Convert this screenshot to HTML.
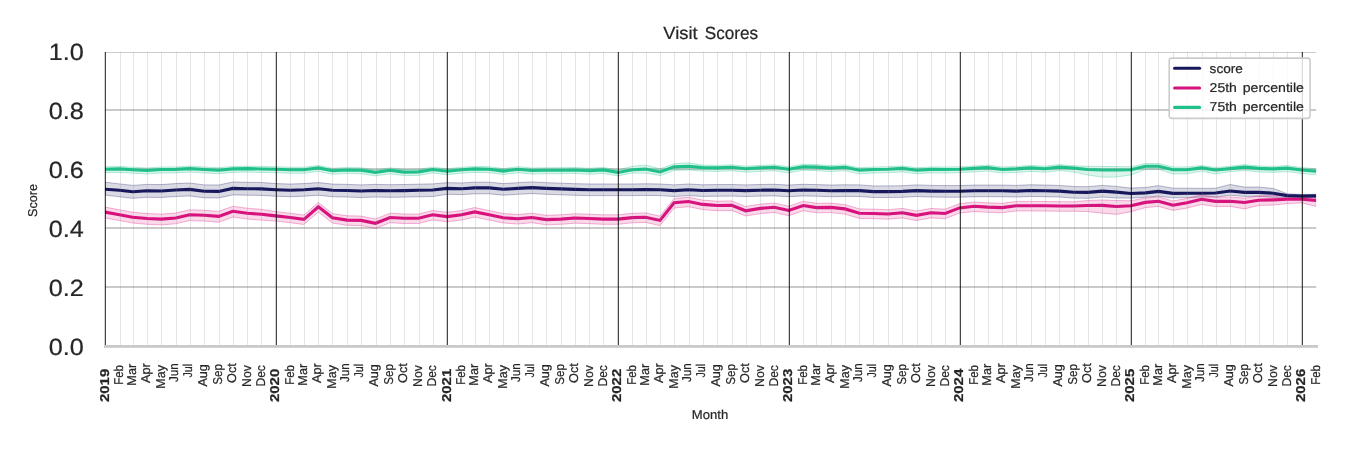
<!DOCTYPE html>
<html><head><meta charset="utf-8"><title>Visit Scores</title>
<style>html,body{margin:0;padding:0;background:#fff;}body{width:1350px;height:450px;overflow:hidden;font-family:"Liberation Sans",sans-serif;}</style></head>
<body>
<svg width="1350" height="450" viewBox="0 0 1350 450" style="display:block;will-change:transform;font-family:'Liberation Sans',sans-serif">
<rect width="1350" height="450" fill="#fff"/>
<style>text{text-rendering:geometricPrecision;stroke:#262626;stroke-width:0.22px}</style>
<defs><clipPath id="ax"><rect x="105.0" y="51.5" width="1211.2" height="296"/></clipPath></defs>
<g stroke="#cacaca" stroke-width="2">
<line x1="105.0" x2="1316.2" y1="287.0" y2="287.0"/>
<line x1="105.0" x2="1316.2" y1="228.0" y2="228.0"/>
<line x1="105.0" x2="1316.2" y1="169.0" y2="169.0"/>
<line x1="105.0" x2="1316.2" y1="110.0" y2="110.0"/>
</g>
<line x1="105.0" x2="1316.2" y1="52.5" y2="52.5" stroke="#cccccc" stroke-width="1"/>
<g clip-path="url(#ax)">
<path d="M105.0 182.2 L119.5 183.9 L132.6 185.4 L147.1 184.4 L161.2 184.6 L175.7 183.6 L189.7 183.0 L204.2 184.9 L218.7 185.0 L232.8 182.0 L247.3 182.3 L261.3 182.5 L275.8 183.6 L290.3 184.1 L303.9 183.6 L318.4 182.6 L332.4 184.1 L347.0 184.4 L361.0 184.9 L375.5 184.4 L390.0 184.7 L404.1 184.5 L418.6 184.2 L432.6 183.9 L447.1 182.7 L461.6 183.0 L474.7 182.2 L489.2 182.2 L503.3 183.6 L517.8 182.7 L531.8 181.9 L546.3 182.7 L560.8 183.2 L574.9 183.7 L589.4 184.0 L603.4 184.0 L617.9 184.0 L632.4 184.0 L645.5 183.8 L660.0 184.0 L674.1 184.9 L688.6 184.0 L702.6 184.8 L717.1 184.6 L731.7 184.5 L745.7 184.9 L760.2 184.5 L774.2 184.3 L788.7 185.1 L803.3 184.3 L816.4 184.6 L830.9 185.1 L844.9 184.8 L859.4 184.9 L873.5 185.9 L888.0 185.9 L902.5 185.7 L916.5 184.9 L931.0 185.4 L945.1 185.6 L959.6 185.6 L974.1 185.1 L987.6 185.1 L1002.2 185.1 L1016.2 185.4 L1030.7 184.8 L1044.7 185.1 L1059.3 185.4 L1073.8 186.5 L1087.8 186.7 L1102.3 185.4 L1116.3 186.4 L1130.9 188.1 L1145.4 187.5 L1158.5 185.7 L1173.0 188.2 L1187.0 188.2 L1201.5 188.4 L1215.6 188.2 L1230.1 184.5 L1244.6 187.1 L1258.6 187.1 L1273.1 188.4 L1287.2 193.7 L1301.7 194.5 L1316.2 194.3 L1316.2 197.6 L1301.7 197.8 L1287.2 197.6 L1273.1 197.2 L1258.6 196.4 L1244.6 196.4 L1230.1 195.2 L1215.6 197.0 L1201.5 197.0 L1187.0 197.6 L1173.0 197.9 L1158.5 196.2 L1145.4 197.2 L1130.9 198.1 L1116.3 198.0 L1102.3 197.0 L1087.8 198.3 L1073.8 198.1 L1059.3 197.0 L1044.7 196.7 L1030.7 196.4 L1016.2 197.0 L1002.2 196.7 L987.6 196.7 L974.1 196.7 L959.6 197.2 L945.1 197.2 L931.0 197.0 L916.5 196.5 L902.5 197.3 L888.0 197.5 L873.5 197.5 L859.4 196.5 L844.9 196.4 L830.9 196.7 L816.4 196.2 L803.3 195.9 L788.7 196.7 L774.2 195.9 L760.2 196.1 L745.7 196.5 L731.7 196.1 L717.1 196.2 L702.6 196.4 L688.6 195.6 L674.1 196.5 L660.0 195.6 L645.5 195.4 L632.4 195.6 L617.9 195.6 L603.4 195.6 L589.4 195.6 L574.9 195.3 L560.8 194.8 L546.3 194.3 L531.8 193.5 L517.8 194.3 L503.3 195.2 L489.2 193.8 L474.7 193.8 L461.6 194.6 L447.1 194.3 L432.6 196.5 L418.6 196.8 L404.1 197.1 L390.0 197.3 L375.5 197.0 L361.0 197.5 L347.0 197.0 L332.4 196.7 L318.4 195.2 L303.9 196.2 L290.3 196.7 L275.8 196.2 L261.3 195.4 L247.3 195.2 L232.8 194.9 L218.7 197.9 L204.2 197.8 L189.7 195.9 L175.7 196.5 L161.2 197.5 L147.1 197.3 L132.6 198.3 L119.5 196.8 L105.0 195.1Z" fill="#17175c" fill-opacity="0.16" stroke="#17175c" stroke-opacity="0.3" stroke-width="1" stroke-linejoin="miter"/>
<path d="M105.0 207.1 L119.5 209.8 L132.6 212.2 L147.1 213.5 L161.2 214.1 L175.7 213.0 L189.7 209.8 L204.2 210.3 L218.7 211.4 L232.8 206.3 L247.3 208.2 L261.3 209.3 L275.8 211.6 L290.3 213.2 L303.9 215.0 L318.4 202.5 L332.4 213.5 L347.0 215.8 L361.0 216.1 L375.5 219.0 L390.0 213.2 L404.1 214.0 L418.6 214.0 L432.6 210.5 L447.1 212.3 L461.6 210.5 L474.7 207.6 L489.2 210.5 L503.3 213.5 L517.8 214.5 L531.8 213.2 L546.3 215.3 L560.8 214.8 L574.9 213.7 L589.4 214.2 L603.4 214.8 L617.9 214.8 L632.4 213.3 L645.5 212.9 L660.0 216.1 L674.1 198.5 L688.6 197.2 L702.6 200.1 L717.1 201.2 L731.7 200.9 L745.7 206.5 L760.2 204.1 L774.2 203.0 L788.7 206.2 L803.3 201.2 L816.4 203.3 L830.9 203.1 L844.9 204.6 L859.4 208.9 L873.5 209.2 L888.0 209.7 L902.5 208.4 L916.5 211.0 L931.0 208.4 L945.1 209.2 L959.6 203.6 L974.1 202.0 L987.6 202.8 L1002.2 203.3 L1016.2 201.4 L1030.7 201.4 L1044.7 201.5 L1059.3 201.7 L1073.8 201.7 L1087.8 200.5 L1102.3 200.0 L1116.3 200.5 L1130.9 200.7 L1145.4 198.1 L1158.5 196.9 L1173.0 200.9 L1187.0 198.5 L1201.5 195.0 L1215.6 197.1 L1230.1 196.9 L1244.6 198.2 L1258.6 195.9 L1273.1 195.6 L1287.2 195.3 L1301.7 195.5 L1316.2 196.4 L1316.2 206.4 L1301.7 202.9 L1287.2 203.6 L1273.1 205.1 L1258.6 205.4 L1244.6 208.9 L1230.1 206.4 L1215.6 206.6 L1201.5 204.5 L1187.0 208.0 L1173.0 210.4 L1158.5 206.4 L1145.4 207.6 L1130.9 211.7 L1116.3 214.4 L1102.3 213.2 L1087.8 211.6 L1073.8 211.2 L1059.3 211.2 L1044.7 211.0 L1030.7 210.9 L1016.2 210.9 L1002.2 212.8 L987.6 212.3 L974.1 211.5 L959.6 213.1 L945.1 218.7 L931.0 217.9 L916.5 220.5 L902.5 217.9 L888.0 219.2 L873.5 218.7 L859.4 218.4 L844.9 214.1 L830.9 212.6 L816.4 212.8 L803.3 210.7 L788.7 215.7 L774.2 212.5 L760.2 213.6 L745.7 216.0 L731.7 210.4 L717.1 210.7 L702.6 209.6 L688.6 206.7 L674.1 208.0 L660.0 225.6 L645.5 222.4 L632.4 222.8 L617.9 224.3 L603.4 224.3 L589.4 223.7 L574.9 223.2 L560.8 224.3 L546.3 224.8 L531.8 222.7 L517.8 224.0 L503.3 223.0 L489.2 220.0 L474.7 217.1 L461.6 220.0 L447.1 221.8 L432.6 220.0 L418.6 223.5 L404.1 223.5 L390.0 222.7 L375.5 228.5 L361.0 225.6 L347.0 225.3 L332.4 223.0 L318.4 212.0 L303.9 224.5 L290.3 222.7 L275.8 221.1 L261.3 220.1 L247.3 219.0 L232.8 217.1 L218.7 222.2 L204.2 221.1 L189.7 220.6 L175.7 223.8 L161.2 224.9 L147.1 224.3 L132.6 223.0 L119.5 220.6 L105.0 217.9Z" fill="#d8127d" fill-opacity="0.16" stroke="#d8127d" stroke-opacity="0.3" stroke-width="1" stroke-linejoin="miter"/>
<path d="M105.0 166.7 L119.5 166.4 L132.6 167.2 L147.1 168.0 L161.2 167.0 L175.7 166.9 L189.7 166.1 L204.2 167.0 L218.7 167.7 L232.8 166.4 L247.3 166.1 L261.3 166.5 L275.8 166.7 L290.3 167.3 L303.9 167.2 L318.4 165.4 L332.4 168.3 L347.0 167.5 L361.0 167.8 L375.5 169.9 L390.0 167.8 L404.1 169.6 L418.6 169.4 L432.6 167.0 L447.1 168.8 L461.6 167.2 L474.7 166.4 L489.2 166.7 L503.3 168.6 L517.8 166.7 L531.8 168.0 L546.3 167.8 L560.8 167.7 L574.9 167.5 L589.4 168.3 L603.4 167.4 L617.9 169.9 L632.4 166.3 L645.5 165.1 L660.0 168.8 L674.1 163.7 L688.6 162.8 L702.6 165.1 L717.1 165.4 L731.7 164.8 L745.7 166.2 L760.2 165.4 L774.2 164.8 L788.7 166.7 L803.3 164.3 L816.4 164.6 L830.9 165.6 L844.9 164.8 L859.4 167.8 L873.5 167.0 L888.0 166.7 L902.5 165.9 L916.5 167.8 L931.0 166.9 L945.1 167.0 L959.6 166.7 L974.1 165.9 L987.6 165.1 L1002.2 167.0 L1016.2 166.4 L1030.7 165.4 L1044.7 166.2 L1059.3 164.6 L1073.8 165.7 L1087.8 166.3 L1102.3 166.5 L1116.3 166.5 L1130.9 166.8 L1145.4 163.5 L1158.5 163.5 L1173.0 166.9 L1187.0 166.9 L1201.5 165.5 L1215.6 167.6 L1230.1 166.2 L1244.6 164.6 L1258.6 165.9 L1273.1 166.4 L1287.2 165.6 L1301.7 167.5 L1316.2 168.8 L1316.2 174.8 L1301.7 173.5 L1287.2 171.6 L1273.1 172.4 L1258.6 171.9 L1244.6 170.6 L1230.1 171.6 L1215.6 174.0 L1201.5 171.1 L1187.0 173.7 L1173.0 174.0 L1158.5 169.3 L1145.4 169.5 L1130.9 175.0 L1116.3 177.0 L1102.3 177.2 L1087.8 175.0 L1073.8 172.1 L1059.3 170.6 L1044.7 172.2 L1030.7 171.4 L1016.2 172.4 L1002.2 173.0 L987.6 171.1 L974.1 171.9 L959.6 172.7 L945.1 173.0 L931.0 172.9 L916.5 173.8 L902.5 171.9 L888.0 172.7 L873.5 173.0 L859.4 173.8 L844.9 170.8 L830.9 171.6 L816.4 170.6 L803.3 170.3 L788.7 172.7 L774.2 170.8 L760.2 171.4 L745.7 172.2 L731.7 170.8 L717.1 171.4 L702.6 171.1 L688.6 169.9 L674.1 170.5 L660.0 175.6 L645.5 173.1 L632.4 173.1 L617.9 175.9 L603.4 173.4 L589.4 174.3 L574.9 173.5 L560.8 173.7 L546.3 173.8 L531.8 174.0 L517.8 172.7 L503.3 174.6 L489.2 172.7 L474.7 172.4 L461.6 173.2 L447.1 174.8 L432.6 173.0 L418.6 175.4 L404.1 175.6 L390.0 173.8 L375.5 175.9 L361.0 173.8 L347.0 173.5 L332.4 174.3 L318.4 171.4 L303.9 173.2 L290.3 173.3 L275.8 172.7 L261.3 172.5 L247.3 172.1 L232.8 172.4 L218.7 173.7 L204.2 173.0 L189.7 172.1 L175.7 172.9 L161.2 173.0 L147.1 174.0 L132.6 173.2 L119.5 172.4 L105.0 172.7Z" fill="#20c08c" fill-opacity="0.16" stroke="#20c08c" stroke-opacity="0.3" stroke-width="1" stroke-linejoin="miter"/>
<path d="M105.0 189.2 L119.5 190.3 L132.6 191.8 L147.1 190.8 L161.2 191.0 L175.7 190.0 L189.7 189.4 L204.2 191.3 L218.7 191.4 L232.8 188.4 L247.3 188.7 L261.3 188.9 L275.8 189.7 L290.3 190.2 L303.9 189.7 L318.4 188.7 L332.4 190.2 L347.0 190.5 L361.0 191.0 L375.5 190.5 L390.0 190.8 L404.1 190.6 L418.6 190.3 L432.6 190.0 L447.1 188.4 L461.6 188.7 L474.7 187.9 L489.2 187.9 L503.3 189.3 L517.8 188.4 L531.8 187.6 L546.3 188.4 L560.8 188.9 L574.9 189.4 L589.4 189.7 L603.4 189.7 L617.9 189.7 L632.4 189.7 L645.5 189.5 L660.0 189.7 L674.1 190.6 L688.6 189.7 L702.6 190.5 L717.1 190.3 L731.7 190.2 L745.7 190.6 L760.2 190.2 L774.2 190.0 L788.7 190.8 L803.3 190.0 L816.4 190.3 L830.9 190.8 L844.9 190.5 L859.4 190.6 L873.5 191.6 L888.0 191.6 L902.5 191.4 L916.5 190.6 L931.0 191.1 L945.1 191.3 L959.6 191.3 L974.1 190.8 L987.6 190.8 L1002.2 190.8 L1016.2 191.1 L1030.7 190.5 L1044.7 190.8 L1059.3 191.1 L1073.8 192.2 L1087.8 192.4 L1102.3 191.1 L1116.3 192.1 L1130.9 193.5 L1145.4 192.9 L1158.5 191.4 L1173.0 193.4 L1187.0 193.2 L1201.5 193.2 L1215.6 193.0 L1230.1 191.0 L1244.6 192.4 L1258.6 192.4 L1273.1 193.2 L1287.2 195.6 L1301.7 196.1 L1316.2 195.9" fill="none" stroke="#17175c" stroke-width="3.1" stroke-linejoin="miter" stroke-miterlimit="6" stroke-linecap="butt"/>
<path d="M105.0 212.1 L119.5 214.8 L132.6 217.2 L147.1 218.5 L161.2 219.1 L175.7 218.0 L189.7 214.8 L204.2 215.3 L218.7 216.4 L232.8 211.3 L247.3 213.2 L261.3 214.3 L275.8 215.9 L290.3 217.5 L303.9 219.3 L318.4 206.8 L332.4 217.8 L347.0 220.1 L361.0 220.4 L375.5 223.3 L390.0 217.5 L404.1 218.3 L418.6 218.3 L432.6 214.8 L447.1 216.6 L461.6 214.8 L474.7 211.9 L489.2 214.8 L503.3 217.8 L517.8 218.8 L531.8 217.5 L546.3 219.6 L560.8 219.1 L574.9 218.0 L589.4 218.5 L603.4 219.1 L617.9 219.1 L632.4 217.6 L645.5 217.2 L660.0 220.4 L674.1 202.8 L688.6 201.5 L702.6 204.4 L717.1 205.5 L731.7 205.2 L745.7 210.8 L760.2 208.4 L774.2 207.3 L788.7 210.5 L803.3 205.5 L816.4 207.6 L830.9 207.4 L844.9 208.9 L859.4 213.2 L873.5 213.5 L888.0 214.0 L902.5 212.7 L916.5 215.3 L931.0 212.7 L945.1 213.5 L959.6 207.9 L974.1 206.3 L987.6 207.1 L1002.2 207.6 L1016.2 205.7 L1030.7 205.7 L1044.7 205.8 L1059.3 206.0 L1073.8 206.0 L1087.8 205.5 L1102.3 205.4 L1116.3 206.5 L1130.9 205.7 L1145.4 202.4 L1158.5 201.2 L1173.0 205.2 L1187.0 202.8 L1201.5 199.3 L1215.6 201.4 L1230.1 201.2 L1244.6 202.5 L1258.6 200.2 L1273.1 199.9 L1287.2 199.3 L1301.7 199.3 L1316.2 200.4" fill="none" stroke="#d8127d" stroke-width="3.1" stroke-linejoin="miter" stroke-miterlimit="6" stroke-linecap="butt"/>
<path d="M105.0 169.2 L119.5 168.9 L132.6 169.7 L147.1 170.5 L161.2 169.5 L175.7 169.4 L189.7 168.6 L204.2 169.5 L218.7 170.2 L232.8 168.9 L247.3 168.6 L261.3 169.0 L275.8 169.2 L290.3 169.8 L303.9 169.7 L318.4 167.9 L332.4 170.8 L347.0 170.0 L361.0 170.3 L375.5 172.4 L390.0 170.3 L404.1 172.1 L418.6 171.9 L432.6 169.5 L447.1 171.3 L461.6 169.7 L474.7 168.9 L489.2 169.2 L503.3 171.1 L517.8 169.2 L531.8 170.5 L546.3 170.3 L560.8 170.2 L574.9 170.0 L589.4 170.8 L603.4 169.9 L617.9 172.4 L632.4 169.7 L645.5 169.1 L660.0 172.0 L674.1 166.9 L688.6 166.3 L702.6 167.6 L717.1 167.9 L731.7 167.3 L745.7 168.7 L760.2 167.9 L774.2 167.3 L788.7 169.2 L803.3 166.8 L816.4 167.1 L830.9 168.1 L844.9 167.3 L859.4 170.3 L873.5 169.5 L888.0 169.2 L902.5 168.4 L916.5 170.3 L931.0 169.4 L945.1 169.5 L959.6 169.2 L974.1 168.4 L987.6 167.6 L1002.2 169.5 L1016.2 168.9 L1030.7 167.9 L1044.7 168.7 L1059.3 167.1 L1073.8 168.1 L1087.8 169.5 L1102.3 170.0 L1116.3 170.0 L1130.9 169.8 L1145.4 166.3 L1158.5 166.3 L1173.0 169.7 L1187.0 169.7 L1201.5 167.9 L1215.6 170.0 L1230.1 168.6 L1244.6 167.1 L1258.6 168.4 L1273.1 168.9 L1287.2 168.1 L1301.7 170.0 L1316.2 171.3" fill="none" stroke="#20c08c" stroke-width="3.1" stroke-linejoin="miter" stroke-miterlimit="6" stroke-linecap="butt"/>
</g>
<g stroke="#808080" stroke-opacity="0.205" stroke-width="1">
<line x1="120.50" x2="120.50" y1="52" y2="345"/>
<line x1="133.50" x2="133.50" y1="52" y2="345"/>
<line x1="147.50" x2="147.50" y1="52" y2="345"/>
<line x1="161.50" x2="161.50" y1="52" y2="345"/>
<line x1="176.50" x2="176.50" y1="52" y2="345"/>
<line x1="190.50" x2="190.50" y1="52" y2="345"/>
<line x1="204.50" x2="204.50" y1="52" y2="345"/>
<line x1="219.50" x2="219.50" y1="52" y2="345"/>
<line x1="233.50" x2="233.50" y1="52" y2="345"/>
<line x1="247.50" x2="247.50" y1="52" y2="345"/>
<line x1="261.50" x2="261.50" y1="52" y2="345"/>
<line x1="290.50" x2="290.50" y1="52" y2="345"/>
<line x1="304.50" x2="304.50" y1="52" y2="345"/>
<line x1="318.50" x2="318.50" y1="52" y2="345"/>
<line x1="332.50" x2="332.50" y1="52" y2="345"/>
<line x1="347.50" x2="347.50" y1="52" y2="345"/>
<line x1="361.50" x2="361.50" y1="52" y2="345"/>
<line x1="376.50" x2="376.50" y1="52" y2="345"/>
<line x1="390.50" x2="390.50" y1="52" y2="345"/>
<line x1="404.50" x2="404.50" y1="52" y2="345"/>
<line x1="419.50" x2="419.50" y1="52" y2="345"/>
<line x1="433.50" x2="433.50" y1="52" y2="345"/>
<line x1="462.50" x2="462.50" y1="52" y2="345"/>
<line x1="475.50" x2="475.50" y1="52" y2="345"/>
<line x1="489.50" x2="489.50" y1="52" y2="345"/>
<line x1="503.50" x2="503.50" y1="52" y2="345"/>
<line x1="518.50" x2="518.50" y1="52" y2="345"/>
<line x1="532.50" x2="532.50" y1="52" y2="345"/>
<line x1="546.50" x2="546.50" y1="52" y2="345"/>
<line x1="561.50" x2="561.50" y1="52" y2="345"/>
<line x1="575.50" x2="575.50" y1="52" y2="345"/>
<line x1="589.50" x2="589.50" y1="52" y2="345"/>
<line x1="603.50" x2="603.50" y1="52" y2="345"/>
<line x1="632.50" x2="632.50" y1="52" y2="345"/>
<line x1="646.50" x2="646.50" y1="52" y2="345"/>
<line x1="660.50" x2="660.50" y1="52" y2="345"/>
<line x1="674.50" x2="674.50" y1="52" y2="345"/>
<line x1="689.50" x2="689.50" y1="52" y2="345"/>
<line x1="703.50" x2="703.50" y1="52" y2="345"/>
<line x1="717.50" x2="717.50" y1="52" y2="345"/>
<line x1="732.50" x2="732.50" y1="52" y2="345"/>
<line x1="746.50" x2="746.50" y1="52" y2="345"/>
<line x1="760.50" x2="760.50" y1="52" y2="345"/>
<line x1="774.50" x2="774.50" y1="52" y2="345"/>
<line x1="803.50" x2="803.50" y1="52" y2="345"/>
<line x1="816.50" x2="816.50" y1="52" y2="345"/>
<line x1="831.50" x2="831.50" y1="52" y2="345"/>
<line x1="845.50" x2="845.50" y1="52" y2="345"/>
<line x1="859.50" x2="859.50" y1="52" y2="345"/>
<line x1="873.50" x2="873.50" y1="52" y2="345"/>
<line x1="888.50" x2="888.50" y1="52" y2="345"/>
<line x1="902.50" x2="902.50" y1="52" y2="345"/>
<line x1="917.50" x2="917.50" y1="52" y2="345"/>
<line x1="931.50" x2="931.50" y1="52" y2="345"/>
<line x1="945.50" x2="945.50" y1="52" y2="345"/>
<line x1="974.50" x2="974.50" y1="52" y2="345"/>
<line x1="988.50" x2="988.50" y1="52" y2="345"/>
<line x1="1002.50" x2="1002.50" y1="52" y2="345"/>
<line x1="1016.50" x2="1016.50" y1="52" y2="345"/>
<line x1="1031.50" x2="1031.50" y1="52" y2="345"/>
<line x1="1045.50" x2="1045.50" y1="52" y2="345"/>
<line x1="1059.50" x2="1059.50" y1="52" y2="345"/>
<line x1="1074.50" x2="1074.50" y1="52" y2="345"/>
<line x1="1088.50" x2="1088.50" y1="52" y2="345"/>
<line x1="1102.50" x2="1102.50" y1="52" y2="345"/>
<line x1="1116.50" x2="1116.50" y1="52" y2="345"/>
<line x1="1145.50" x2="1145.50" y1="52" y2="345"/>
<line x1="1158.50" x2="1158.50" y1="52" y2="345"/>
<line x1="1173.50" x2="1173.50" y1="52" y2="345"/>
<line x1="1187.50" x2="1187.50" y1="52" y2="345"/>
<line x1="1202.50" x2="1202.50" y1="52" y2="345"/>
<line x1="1216.50" x2="1216.50" y1="52" y2="345"/>
<line x1="1230.50" x2="1230.50" y1="52" y2="345"/>
<line x1="1245.50" x2="1245.50" y1="52" y2="345"/>
<line x1="1259.50" x2="1259.50" y1="52" y2="345"/>
<line x1="1273.50" x2="1273.50" y1="52" y2="345"/>
<line x1="1287.50" x2="1287.50" y1="52" y2="345"/>
</g>
<g stroke="#000000" stroke-opacity="0.73" stroke-width="1.25">
<line x1="105.375" x2="105.375" y1="52" y2="345.2"/>
<line x1="276.375" x2="276.375" y1="52" y2="345.2"/>
<line x1="447.375" x2="447.375" y1="52" y2="345.2"/>
<line x1="618.375" x2="618.375" y1="52" y2="345.2"/>
<line x1="789.375" x2="789.375" y1="52" y2="345.2"/>
<line x1="960.375" x2="960.375" y1="52" y2="345.2"/>
<line x1="1131.375" x2="1131.375" y1="52" y2="345.2"/>
<line x1="1302.375" x2="1302.375" y1="52" y2="345.2"/>
</g>
<rect x="104" y="345" width="1214.0" height="2.8" fill="#c9c9c9"/>
<text x="48.75" y="355.15" font-size="23.50" textLength="35.00" lengthAdjust="spacingAndGlyphs" fill="#262626">0.0</text>
<text x="48.75" y="296.15" font-size="23.50" textLength="35.00" lengthAdjust="spacingAndGlyphs" fill="#262626">0.2</text>
<text x="48.75" y="237.15" font-size="23.50" textLength="35.00" lengthAdjust="spacingAndGlyphs" fill="#262626">0.4</text>
<text x="48.75" y="178.15" font-size="23.50" textLength="35.00" lengthAdjust="spacingAndGlyphs" fill="#262626">0.6</text>
<text x="48.75" y="119.15" font-size="23.50" textLength="35.00" lengthAdjust="spacingAndGlyphs" fill="#262626">0.8</text>
<text x="48.75" y="60.15" font-size="23.50" textLength="35.00" lengthAdjust="spacingAndGlyphs" fill="#262626">1.0</text>
<text transform="translate(109.20 402.10) rotate(-90)" x="0.00" font-size="12.80" font-weight="bold" textLength="33.39" lengthAdjust="spacingAndGlyphs" fill="#262626">2019</text>
<text transform="translate(123.16 384.80) rotate(-90)" x="0.00" font-size="12.80" textLength="19.80" lengthAdjust="spacingAndGlyphs" fill="#262626">Feb</text>
<text transform="translate(136.06 385.70) rotate(-90)" x="0.00" font-size="12.80" textLength="21.90" lengthAdjust="spacingAndGlyphs" fill="#262626">Mar</text>
<text transform="translate(150.07 383.10) rotate(-90)" x="0.00" font-size="12.80" textLength="20.00" lengthAdjust="spacingAndGlyphs" fill="#262626">Apr</text>
<text transform="translate(164.81 388.70) rotate(-90)" x="0.00" font-size="12.80" textLength="23.60" lengthAdjust="spacingAndGlyphs" fill="#262626">May</text>
<text transform="translate(177.92 382.00) rotate(-90)" x="0.00" font-size="12.80" textLength="18.70" lengthAdjust="spacingAndGlyphs" fill="#262626">Jun</text>
<text transform="translate(192.06 377.60) rotate(-90)" x="0.00" font-size="12.80" textLength="13.60" lengthAdjust="spacingAndGlyphs" fill="#262626">Jul</text>
<text transform="translate(207.17 386.60) rotate(-90)" x="0.00" font-size="12.80" textLength="22.40" lengthAdjust="spacingAndGlyphs" fill="#262626">Aug</text>
<text transform="translate(221.77 384.70) rotate(-90)" x="0.00" font-size="12.80" textLength="20.70" lengthAdjust="spacingAndGlyphs" fill="#262626">Sep</text>
<text transform="translate(235.91 382.90) rotate(-90)" x="0.00" font-size="12.80" textLength="19.60" lengthAdjust="spacingAndGlyphs" fill="#262626">Oct</text>
<text transform="translate(251.02 386.90) rotate(-90)" x="0.00" font-size="12.80" textLength="21.80" lengthAdjust="spacingAndGlyphs" fill="#262626">Nov</text>
<text transform="translate(264.86 386.60) rotate(-90)" x="0.00" font-size="12.80" textLength="21.50" lengthAdjust="spacingAndGlyphs" fill="#262626">Dec</text>
<text transform="translate(279.00 402.10) rotate(-90)" x="0.00" font-size="12.80" font-weight="bold" textLength="33.39" lengthAdjust="spacingAndGlyphs" fill="#262626">2020</text>
<text transform="translate(293.98 384.80) rotate(-90)" x="0.00" font-size="12.80" textLength="19.80" lengthAdjust="spacingAndGlyphs" fill="#262626">Feb</text>
<text transform="translate(307.35 385.70) rotate(-90)" x="0.00" font-size="12.80" textLength="21.90" lengthAdjust="spacingAndGlyphs" fill="#262626">Mar</text>
<text transform="translate(321.36 383.10) rotate(-90)" x="0.00" font-size="12.80" textLength="20.00" lengthAdjust="spacingAndGlyphs" fill="#262626">Apr</text>
<text transform="translate(336.10 388.70) rotate(-90)" x="0.00" font-size="12.80" textLength="23.60" lengthAdjust="spacingAndGlyphs" fill="#262626">May</text>
<text transform="translate(349.21 382.00) rotate(-90)" x="0.00" font-size="12.80" textLength="18.70" lengthAdjust="spacingAndGlyphs" fill="#262626">Jun</text>
<text transform="translate(363.35 377.60) rotate(-90)" x="0.00" font-size="12.80" textLength="13.60" lengthAdjust="spacingAndGlyphs" fill="#262626">Jul</text>
<text transform="translate(378.45 386.60) rotate(-90)" x="0.00" font-size="12.80" textLength="22.40" lengthAdjust="spacingAndGlyphs" fill="#262626">Aug</text>
<text transform="translate(393.06 384.70) rotate(-90)" x="0.00" font-size="12.80" textLength="20.70" lengthAdjust="spacingAndGlyphs" fill="#262626">Sep</text>
<text transform="translate(407.20 382.90) rotate(-90)" x="0.00" font-size="12.80" textLength="19.60" lengthAdjust="spacingAndGlyphs" fill="#262626">Oct</text>
<text transform="translate(422.31 386.90) rotate(-90)" x="0.00" font-size="12.80" textLength="21.80" lengthAdjust="spacingAndGlyphs" fill="#262626">Nov</text>
<text transform="translate(436.15 386.60) rotate(-90)" x="0.00" font-size="12.80" textLength="21.50" lengthAdjust="spacingAndGlyphs" fill="#262626">Dec</text>
<text transform="translate(451.10 402.10) rotate(-90)" x="0.00" font-size="12.80" font-weight="bold" textLength="33.39" lengthAdjust="spacingAndGlyphs" fill="#262626">2021</text>
<text transform="translate(465.27 384.80) rotate(-90)" x="0.00" font-size="12.80" textLength="19.80" lengthAdjust="spacingAndGlyphs" fill="#262626">Feb</text>
<text transform="translate(478.17 385.70) rotate(-90)" x="0.00" font-size="12.80" textLength="21.90" lengthAdjust="spacingAndGlyphs" fill="#262626">Mar</text>
<text transform="translate(492.18 383.10) rotate(-90)" x="0.00" font-size="12.80" textLength="20.00" lengthAdjust="spacingAndGlyphs" fill="#262626">Apr</text>
<text transform="translate(506.92 388.70) rotate(-90)" x="0.00" font-size="12.80" textLength="23.60" lengthAdjust="spacingAndGlyphs" fill="#262626">May</text>
<text transform="translate(520.03 382.00) rotate(-90)" x="0.00" font-size="12.80" textLength="18.70" lengthAdjust="spacingAndGlyphs" fill="#262626">Jun</text>
<text transform="translate(534.17 377.60) rotate(-90)" x="0.00" font-size="12.80" textLength="13.60" lengthAdjust="spacingAndGlyphs" fill="#262626">Jul</text>
<text transform="translate(549.27 386.60) rotate(-90)" x="0.00" font-size="12.80" textLength="22.40" lengthAdjust="spacingAndGlyphs" fill="#262626">Aug</text>
<text transform="translate(563.88 384.70) rotate(-90)" x="0.00" font-size="12.80" textLength="20.70" lengthAdjust="spacingAndGlyphs" fill="#262626">Sep</text>
<text transform="translate(578.02 382.90) rotate(-90)" x="0.00" font-size="12.80" textLength="19.60" lengthAdjust="spacingAndGlyphs" fill="#262626">Oct</text>
<text transform="translate(593.13 386.90) rotate(-90)" x="0.00" font-size="12.80" textLength="21.80" lengthAdjust="spacingAndGlyphs" fill="#262626">Nov</text>
<text transform="translate(606.97 386.60) rotate(-90)" x="0.00" font-size="12.80" textLength="21.50" lengthAdjust="spacingAndGlyphs" fill="#262626">Dec</text>
<text transform="translate(621.10 402.10) rotate(-90)" x="0.00" font-size="12.80" font-weight="bold" textLength="33.39" lengthAdjust="spacingAndGlyphs" fill="#262626">2022</text>
<text transform="translate(636.09 384.80) rotate(-90)" x="0.00" font-size="12.80" textLength="19.80" lengthAdjust="spacingAndGlyphs" fill="#262626">Feb</text>
<text transform="translate(648.99 385.70) rotate(-90)" x="0.00" font-size="12.80" textLength="21.90" lengthAdjust="spacingAndGlyphs" fill="#262626">Mar</text>
<text transform="translate(663.00 383.10) rotate(-90)" x="0.00" font-size="12.80" textLength="20.00" lengthAdjust="spacingAndGlyphs" fill="#262626">Apr</text>
<text transform="translate(677.74 388.70) rotate(-90)" x="0.00" font-size="12.80" textLength="23.60" lengthAdjust="spacingAndGlyphs" fill="#262626">May</text>
<text transform="translate(690.85 382.00) rotate(-90)" x="0.00" font-size="12.80" textLength="18.70" lengthAdjust="spacingAndGlyphs" fill="#262626">Jun</text>
<text transform="translate(704.99 377.60) rotate(-90)" x="0.00" font-size="12.80" textLength="13.60" lengthAdjust="spacingAndGlyphs" fill="#262626">Jul</text>
<text transform="translate(720.09 386.60) rotate(-90)" x="0.00" font-size="12.80" textLength="22.40" lengthAdjust="spacingAndGlyphs" fill="#262626">Aug</text>
<text transform="translate(734.70 384.70) rotate(-90)" x="0.00" font-size="12.80" textLength="20.70" lengthAdjust="spacingAndGlyphs" fill="#262626">Sep</text>
<text transform="translate(748.84 382.90) rotate(-90)" x="0.00" font-size="12.80" textLength="19.60" lengthAdjust="spacingAndGlyphs" fill="#262626">Oct</text>
<text transform="translate(763.95 386.90) rotate(-90)" x="0.00" font-size="12.80" textLength="21.80" lengthAdjust="spacingAndGlyphs" fill="#262626">Nov</text>
<text transform="translate(777.79 386.60) rotate(-90)" x="0.00" font-size="12.80" textLength="21.50" lengthAdjust="spacingAndGlyphs" fill="#262626">Dec</text>
<text transform="translate(791.70 402.10) rotate(-90)" x="0.00" font-size="12.80" font-weight="bold" textLength="33.39" lengthAdjust="spacingAndGlyphs" fill="#262626">2023</text>
<text transform="translate(806.91 384.80) rotate(-90)" x="0.00" font-size="12.80" textLength="19.80" lengthAdjust="spacingAndGlyphs" fill="#262626">Feb</text>
<text transform="translate(819.81 385.70) rotate(-90)" x="0.00" font-size="12.80" textLength="21.90" lengthAdjust="spacingAndGlyphs" fill="#262626">Mar</text>
<text transform="translate(833.82 383.10) rotate(-90)" x="0.00" font-size="12.80" textLength="20.00" lengthAdjust="spacingAndGlyphs" fill="#262626">Apr</text>
<text transform="translate(848.56 388.70) rotate(-90)" x="0.00" font-size="12.80" textLength="23.60" lengthAdjust="spacingAndGlyphs" fill="#262626">May</text>
<text transform="translate(861.67 382.00) rotate(-90)" x="0.00" font-size="12.80" textLength="18.70" lengthAdjust="spacingAndGlyphs" fill="#262626">Jun</text>
<text transform="translate(875.81 377.60) rotate(-90)" x="0.00" font-size="12.80" textLength="13.60" lengthAdjust="spacingAndGlyphs" fill="#262626">Jul</text>
<text transform="translate(890.91 386.60) rotate(-90)" x="0.00" font-size="12.80" textLength="22.40" lengthAdjust="spacingAndGlyphs" fill="#262626">Aug</text>
<text transform="translate(905.52 384.70) rotate(-90)" x="0.00" font-size="12.80" textLength="20.70" lengthAdjust="spacingAndGlyphs" fill="#262626">Sep</text>
<text transform="translate(919.66 382.90) rotate(-90)" x="0.00" font-size="12.80" textLength="19.60" lengthAdjust="spacingAndGlyphs" fill="#262626">Oct</text>
<text transform="translate(934.77 386.90) rotate(-90)" x="0.00" font-size="12.80" textLength="21.80" lengthAdjust="spacingAndGlyphs" fill="#262626">Nov</text>
<text transform="translate(948.61 386.60) rotate(-90)" x="0.00" font-size="12.80" textLength="21.50" lengthAdjust="spacingAndGlyphs" fill="#262626">Dec</text>
<text transform="translate(963.10 402.10) rotate(-90)" x="0.00" font-size="12.80" font-weight="bold" textLength="33.39" lengthAdjust="spacingAndGlyphs" fill="#262626">2024</text>
<text transform="translate(977.73 384.80) rotate(-90)" x="0.00" font-size="12.80" textLength="19.80" lengthAdjust="spacingAndGlyphs" fill="#262626">Feb</text>
<text transform="translate(991.10 385.70) rotate(-90)" x="0.00" font-size="12.80" textLength="21.90" lengthAdjust="spacingAndGlyphs" fill="#262626">Mar</text>
<text transform="translate(1005.11 383.10) rotate(-90)" x="0.00" font-size="12.80" textLength="20.00" lengthAdjust="spacingAndGlyphs" fill="#262626">Apr</text>
<text transform="translate(1019.85 388.70) rotate(-90)" x="0.00" font-size="12.80" textLength="23.60" lengthAdjust="spacingAndGlyphs" fill="#262626">May</text>
<text transform="translate(1032.95 382.00) rotate(-90)" x="0.00" font-size="12.80" textLength="18.70" lengthAdjust="spacingAndGlyphs" fill="#262626">Jun</text>
<text transform="translate(1047.09 377.60) rotate(-90)" x="0.00" font-size="12.80" textLength="13.60" lengthAdjust="spacingAndGlyphs" fill="#262626">Jul</text>
<text transform="translate(1062.20 386.60) rotate(-90)" x="0.00" font-size="12.80" textLength="22.40" lengthAdjust="spacingAndGlyphs" fill="#262626">Aug</text>
<text transform="translate(1076.81 384.70) rotate(-90)" x="0.00" font-size="12.80" textLength="20.70" lengthAdjust="spacingAndGlyphs" fill="#262626">Sep</text>
<text transform="translate(1090.95 382.90) rotate(-90)" x="0.00" font-size="12.80" textLength="19.60" lengthAdjust="spacingAndGlyphs" fill="#262626">Oct</text>
<text transform="translate(1106.06 386.90) rotate(-90)" x="0.00" font-size="12.80" textLength="21.80" lengthAdjust="spacingAndGlyphs" fill="#262626">Nov</text>
<text transform="translate(1119.90 386.60) rotate(-90)" x="0.00" font-size="12.80" textLength="21.50" lengthAdjust="spacingAndGlyphs" fill="#262626">Dec</text>
<text transform="translate(1133.90 402.10) rotate(-90)" x="0.00" font-size="12.80" font-weight="bold" textLength="33.39" lengthAdjust="spacingAndGlyphs" fill="#262626">2025</text>
<text transform="translate(1149.01 384.80) rotate(-90)" x="0.00" font-size="12.80" textLength="19.80" lengthAdjust="spacingAndGlyphs" fill="#262626">Feb</text>
<text transform="translate(1161.92 385.70) rotate(-90)" x="0.00" font-size="12.80" textLength="21.90" lengthAdjust="spacingAndGlyphs" fill="#262626">Mar</text>
<text transform="translate(1175.93 383.10) rotate(-90)" x="0.00" font-size="12.80" textLength="20.00" lengthAdjust="spacingAndGlyphs" fill="#262626">Apr</text>
<text transform="translate(1190.67 388.70) rotate(-90)" x="0.00" font-size="12.80" textLength="23.60" lengthAdjust="spacingAndGlyphs" fill="#262626">May</text>
<text transform="translate(1203.77 382.00) rotate(-90)" x="0.00" font-size="12.80" textLength="18.70" lengthAdjust="spacingAndGlyphs" fill="#262626">Jun</text>
<text transform="translate(1217.91 377.60) rotate(-90)" x="0.00" font-size="12.80" textLength="13.60" lengthAdjust="spacingAndGlyphs" fill="#262626">Jul</text>
<text transform="translate(1233.02 386.60) rotate(-90)" x="0.00" font-size="12.80" textLength="22.40" lengthAdjust="spacingAndGlyphs" fill="#262626">Aug</text>
<text transform="translate(1247.63 384.70) rotate(-90)" x="0.00" font-size="12.80" textLength="20.70" lengthAdjust="spacingAndGlyphs" fill="#262626">Sep</text>
<text transform="translate(1261.77 382.90) rotate(-90)" x="0.00" font-size="12.80" textLength="19.60" lengthAdjust="spacingAndGlyphs" fill="#262626">Oct</text>
<text transform="translate(1276.88 386.90) rotate(-90)" x="0.00" font-size="12.80" textLength="21.80" lengthAdjust="spacingAndGlyphs" fill="#262626">Nov</text>
<text transform="translate(1290.72 386.60) rotate(-90)" x="0.00" font-size="12.80" textLength="21.50" lengthAdjust="spacingAndGlyphs" fill="#262626">Dec</text>
<text transform="translate(1305.40 402.10) rotate(-90)" x="0.00" font-size="12.80" font-weight="bold" textLength="33.39" lengthAdjust="spacingAndGlyphs" fill="#262626">2026</text>
<text transform="translate(1319.83 384.80) rotate(-90)" x="0.00" font-size="12.80" textLength="19.80" lengthAdjust="spacingAndGlyphs" fill="#262626">Feb</text>
<text x="663.30" y="38.55" font-size="17.60" textLength="34.30" lengthAdjust="spacingAndGlyphs" fill="#262626">Visit</text>
<text x="704.80" y="38.55" font-size="17.60" textLength="53.41" lengthAdjust="spacingAndGlyphs" fill="#262626">Scores</text>
<text x="691.80" y="418.80" font-size="12.80" textLength="36.40" lengthAdjust="spacingAndGlyphs" fill="#262626">Month</text>
<text transform="translate(37.30 216.90) rotate(-90)" x="0.00" font-size="12.80" textLength="32.90" lengthAdjust="spacingAndGlyphs" fill="#262626">Score</text>
<rect x="1169.2" y="58.1" width="140.9" height="60.3" rx="2.6" ry="2.6" fill="#fff" fill-opacity="0.8" stroke="#cccccc" stroke-width="1.6"/>
<line x1="1174.6" x2="1199.6" y1="68.3" y2="68.3" stroke="#17175c" stroke-width="3.1" stroke-linecap="round"/>
<text x="1209.60" y="72.80" font-size="12.90" textLength="33.31" lengthAdjust="spacingAndGlyphs" fill="#262626">score</text>
<line x1="1174.6" x2="1199.6" y1="88.0" y2="88.0" stroke="#d8127d" stroke-width="3.1" stroke-linecap="round"/>
<text x="1209.60" y="92.00" font-size="12.90" textLength="27.30" lengthAdjust="spacingAndGlyphs" fill="#262626">25th</text>
<text x="1242.70" y="92.00" font-size="12.90" textLength="61.30" lengthAdjust="spacingAndGlyphs" fill="#262626">percentile</text>
<line x1="1174.6" x2="1199.6" y1="107.4" y2="107.4" stroke="#20c08c" stroke-width="3.1" stroke-linecap="round"/>
<text x="1209.60" y="111.30" font-size="12.90" textLength="27.30" lengthAdjust="spacingAndGlyphs" fill="#262626">75th</text>
<text x="1242.70" y="111.30" font-size="12.90" textLength="61.30" lengthAdjust="spacingAndGlyphs" fill="#262626">percentile</text>
</svg>
</body></html>
